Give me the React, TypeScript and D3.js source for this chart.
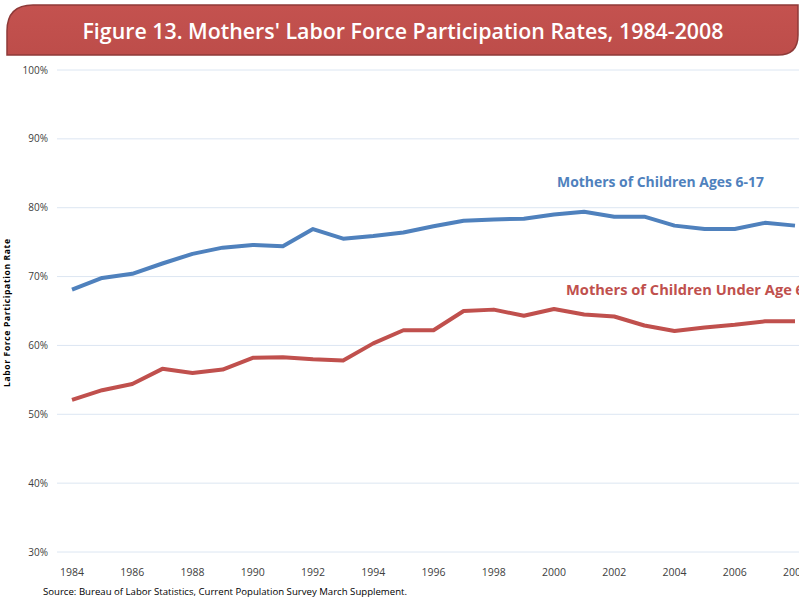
import React, { useEffect, useRef } from 'react';
import * as d3 from 'd3';

const years = [1984, 1985, 1986, 1987, 1988, 1989, 1990, 1991, 1992, 1993, 1994, 1995, 1996,
  1997, 1998, 1999, 2000, 2001, 2002, 2003, 2004, 2005, 2006, 2007, 2008];
const olderKids = [68.1, 69.8, 70.4, 71.9, 73.3, 74.2, 74.6, 74.4, 76.9, 75.5, 75.9, 76.4, 77.3,
  78.1, 78.3, 78.4, 79.0, 79.4, 78.7, 78.7, 77.4, 76.9, 76.9, 77.8, 77.4];
const youngKids = [52.1, 53.5, 54.4, 56.6, 56.0, 56.5, 58.2, 58.3, 58.0, 57.8, 60.3, 62.2, 62.2,
  65.0, 65.2, 64.3, 65.3, 64.5, 64.2, 62.9, 62.1, 62.6, 63.0, 63.5, 63.5];
const yTicks = [30, 40, 50, 60, 70, 80, 90, 100];
const xTicks = [1984, 1986, 1988, 1990, 1992, 1994, 1996, 1998, 2000, 2002, 2004, 2006, 2008];

const FONT = "'Open Sans', 'Noto Sans', sans-serif";

export default function App() {
  const ref = useRef<SVGSVGElement | null>(null);

  useEffect(() => {
    document.body.style.margin = '0';
    const svg = d3.select(ref.current);
    svg.selectAll('*').remove();

    const x = d3.scaleLinear().domain([1984, 2008]).range([72, 795]);
    const y = d3.scaleLinear().domain([30, 100]).range([552, 70]);

    // title banner: rounded top-left and bottom-right corners
    const bx0 = 7, by0 = 5, bx1 = 798, by1 = 55, r1 = 26, r2 = 20;
    const banner = `M${bx0},${by1} L${bx0},${by0 + r1} Q${bx0},${by0} ${bx0 + r1},${by0} L${bx1},${by0} L${bx1},${by1 - r2} Q${bx1},${by1} ${bx1 - r2},${by1} Z`;
    const defs = svg.append('defs');
    const grad = defs.append('linearGradient').attr('id', 'bannerFill')
      .attr('x1', 0).attr('y1', 0).attr('x2', 0).attr('y2', 1);
    grad.append('stop').attr('offset', '0%').attr('stop-color', '#c4524f');
    grad.append('stop').attr('offset', '100%').attr('stop-color', '#bd4d4a');
    svg.append('path').attr('d', banner)
      .attr('fill', 'url(#bannerFill)')
      .attr('stroke', '#8e3a38').attr('stroke-width', 1.5);
    svg.append('text')
      .attr('x', 403).attr('y', 39)
      .attr('text-anchor', 'middle')
      .attr('fill', '#fff')
      .style('font-family', FONT).style('font-size', '22px').style('font-weight', 600)
      .attr('textLength', 641).attr('lengthAdjust', 'spacingAndGlyphs')
      .text("Figure 13. Mothers' Labor Force Participation Rates, 1984-2008");

    // gridlines + y labels
    svg.append('g').selectAll('line').data(yTicks).enter().append('line')
      .attr('x1', 57).attr('x2', 799)
      .attr('y1', (d) => y(d)).attr('y2', (d) => y(d))
      .attr('stroke', '#dce6f2').attr('stroke-width', 1);
    svg.append('g').selectAll('text').data(yTicks).enter().append('text')
      .attr('x', 48).attr('y', (d) => y(d)).attr('dy', '0.35em')
      .attr('text-anchor', 'end').attr('fill', '#404040')
      .style('font-family', FONT).style('font-size', '10px')
      .text((d) => `${d}%`);

    // x labels
    svg.append('g').selectAll('text').data(xTicks).enter().append('text')
      .attr('x', (d) => x(d)).attr('y', 576)
      .attr('text-anchor', 'middle').attr('fill', '#404040')
      .style('font-family', FONT).style('font-size', '10.5px')
      .text((d) => d);

    // y axis title
    svg.append('text')
      .attr('transform', 'translate(10,313) rotate(-90)')
      .attr('text-anchor', 'middle').attr('fill', '#000')
      .style('font-family', FONT).style('font-size', '8.5px').style('font-weight', 700)
      .attr('textLength', 148).attr('lengthAdjust', 'spacing')
      .text('Labor Force Participation Rate');

    const line = d3.line<number>()
      .x((_, i) => x(years[i]))
      .y((d) => y(d));

    svg.append('path').attr('d', line(olderKids) as string)
      .attr('fill', 'none').attr('stroke', '#4f81bd').attr('stroke-width', 4)
      .attr('stroke-linejoin', 'round');
    svg.append('path').attr('d', line(youngKids) as string)
      .attr('fill', 'none').attr('stroke', '#c0504d').attr('stroke-width', 4)
      .attr('stroke-linejoin', 'round');

    svg.append('text')
      .attr('x', 557).attr('y', 187)
      .attr('fill', '#4f81bd')
      .style('font-family', FONT).style('font-size', '14.5px').style('font-weight', 700)
      .attr('textLength', 207).attr('lengthAdjust', 'spacingAndGlyphs')
      .text('Mothers of Children Ages 6-17');
    svg.append('text')
      .attr('x', 566).attr('y', 295)
      .attr('fill', '#c0504d')
      .style('font-family', FONT).style('font-size', '14.5px').style('font-weight', 700)
      .attr('textLength', 238).attr('lengthAdjust', 'spacingAndGlyphs')
      .text('Mothers of Children Under Age 6');

    svg.append('text')
      .attr('x', 43).attr('y', 595)
      .attr('fill', '#000')
      .style('font-family', FONT).style('font-size', '9.5px')
      .attr('textLength', 364).attr('lengthAdjust', 'spacingAndGlyphs')
      .text('Source: Bureau of Labor Statistics, Current Population Survey March Supplement.');
  }, []);

  return <svg ref={ref} width={799} height={599} style={{ display: 'block', background: '#fff' }} />;
}
